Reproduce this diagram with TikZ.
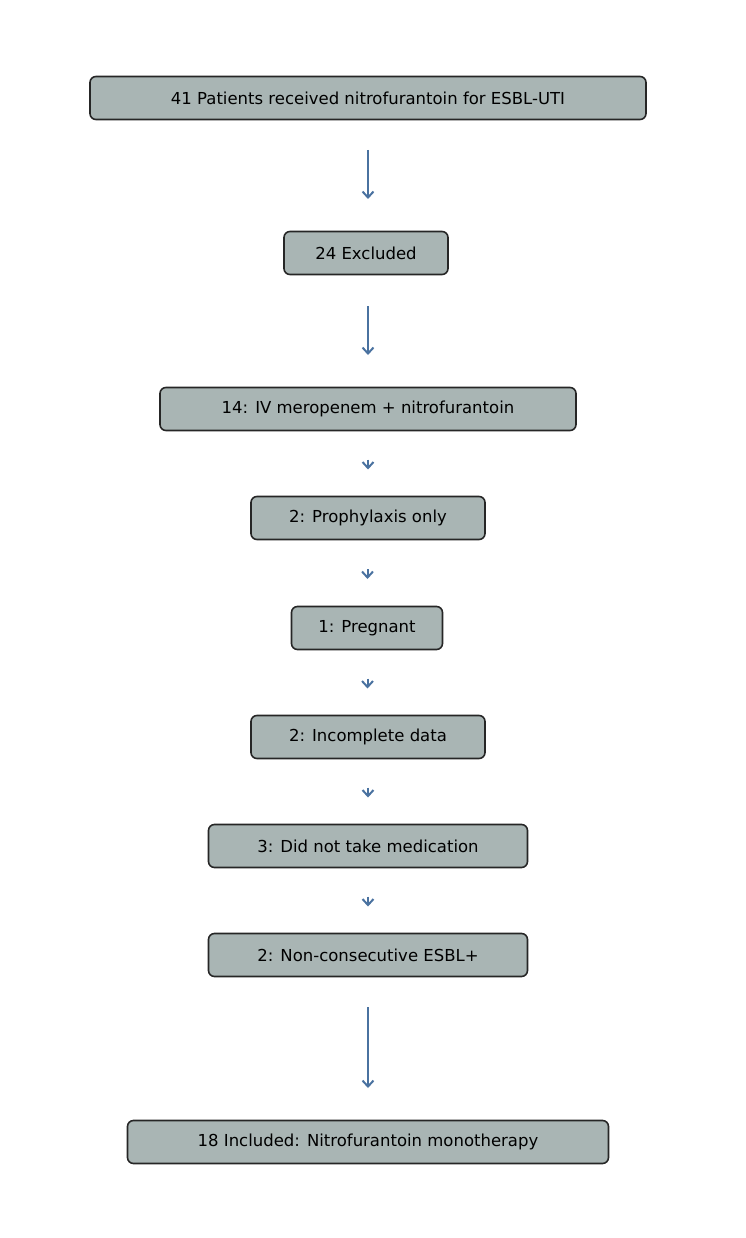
\documentclass[tikz,border=0pt]{standalone}
\usepackage{fontspec}
\setmainfont{DejaVu Sans}
\usetikzlibrary{arrows.meta,calc}
\definecolor{boxfill}{HTML}{A9B5B4}
\definecolor{arr}{HTML}{4A72A0}
\begin{document}
\begin{tikzpicture}[x=1pt,y=-1pt,
 box/.style={draw=black!85,line width=1.6pt,fill=boxfill,rounded corners=6pt,minimum height=43pt,inner sep=0pt,font=\fontsize{16.5}{18}\selectfont},
 ar/.style={draw=arr,line width=2pt,-{Straight Barb[length=6pt,width=11pt]}}]
\useasboundingbox (0,0) rectangle (746,1238);
\node[box,minimum width=556pt] (n1) at (368,98) {41 Patients received nitrofurantoin for ESBL-UTI};
\node[box,minimum width=164pt] (n2) at (366,253) {24 Excluded};
\node[box,minimum width=416pt] (n3) at (368,409) {14: IV meropenem + nitrofurantoin};
\node[box,minimum width=234pt] (n4) at (368,518) {2: Prophylaxis only};
\node[box,minimum width=151pt] (n5) at (367,628) {1: Pregnant};
\node[box,minimum width=234pt] (n6) at (368,737) {2: Incomplete data};
\node[box,minimum width=319pt] (n7) at (368,846) {3: Did not take medication};
\node[box,minimum width=319pt] (n8) at (368,955) {2: Non-consecutive ESBL+};
\node[box,minimum width=481pt] (n9) at (368,1142) {18 Included: Nitrofurantoin monotherapy};
\coordinate (a1s) at (368,150); \coordinate (a1e) at (368,199);
\coordinate (a2s) at (368,306); \coordinate (a2e) at (368,355);
\coordinate (a8s) at (368,1007); \coordinate (a8e) at (368,1088);
\draw[ar] (a1s) -- (a1e);
\draw[ar] (a2s) -- (a2e);
\draw[ar] (a8s) -- (a8e);
\foreach \a/\b in {n3/n4,n4/n5,n5/n6,n6/n7,n7/n8}{
 \draw[ar] ($(\a.south)!0.5!(\b.north)+(0,-4)$) -- ($(\a.south)!0.5!(\b.north)+(0,6)$);
}
\end{tikzpicture}
\end{document}
